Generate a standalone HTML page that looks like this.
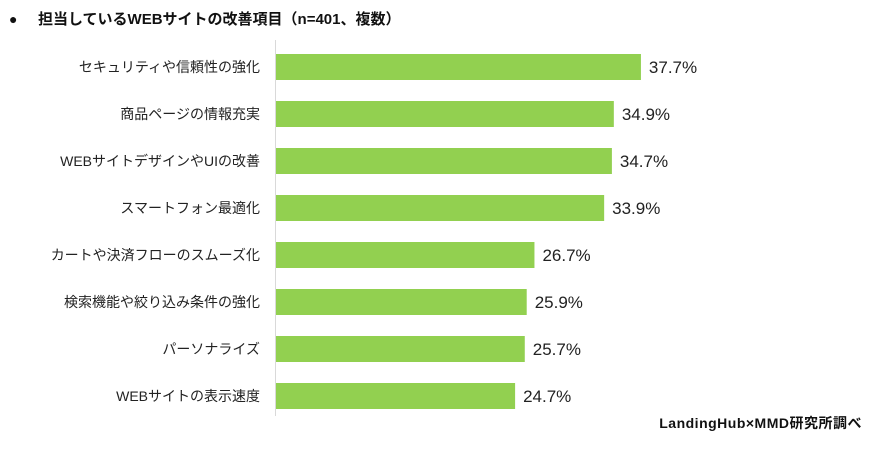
<!DOCTYPE html>
<html><head><meta charset="utf-8"><style>
body{margin:0;background:#fff;width:873px;height:445px;overflow:hidden;font-family:"Liberation Sans","Noto Sans CJK JP",sans-serif;}
svg text{font-family:"Liberation Sans","Noto Sans CJK JP",sans-serif;}
</style></head><body>
<svg width="873" height="445">
<text x="9" y="24" font-size="14" fill="#111">●</text>
<text x="38" y="24" font-size="15" font-weight="bold" fill="#111">担当しているWEBサイトの改善項目（n=401、複数）</text>
<line x1="275.5" y1="40" x2="275.5" y2="416" stroke="#d9d9d9"/>
<g id="bars"></g>
<text x="862" y="428" text-anchor="end" font-size="14" font-weight="bold" fill="#111" letter-spacing="0.5">LandingHub×MMD研究所調べ</text>
</svg>
<script>
const categories=["セキュリティや信頼性の強化","商品ページの情報充実","WEBサイトデザインやUIの改善","スマートフォン最適化","カートや決済フローのスムーズ化","検索機能や絞り込み条件の強化","パーソナライズ","WEBサイトの表示速度"];
const values=[37.7,34.9,34.7,33.9,26.7,25.9,25.7,24.7];
const valueLabels=["37.7%","34.9%","34.7%","33.9%","26.7%","25.9%","25.7%","24.7%"];
const x0=276,k=9.68,y0=54,step=47,bh=26;
const xs=v=>x0+v*k, ys=i=>y0+i*step;
const g=document.getElementById('bars'),NS="http://www.w3.org/2000/svg";
categories.forEach((c,i)=>{
 const r=document.createElementNS(NS,'rect');
 r.setAttribute('x',x0);r.setAttribute('y',ys(i));r.setAttribute('width',xs(values[i])-x0);r.setAttribute('height',bh);r.setAttribute('fill','#92d050');
 
 
 g.appendChild(r);
 const t=document.createElementNS(NS,'text');
 t.setAttribute('x',260);t.setAttribute('y',ys(i)+bh/2+5);t.setAttribute('text-anchor','end');t.setAttribute('font-size','14');t.setAttribute('fill','#222');t.textContent=c;
 
 
 g.appendChild(t);
 const v=document.createElementNS(NS,'text');
 v.setAttribute('x',xs(values[i])+8);v.setAttribute('y',ys(i)+bh/2+6);v.setAttribute('font-size','17');v.setAttribute('fill','#222');v.textContent=valueLabels[i];
 
 
 g.appendChild(v);
});
</script>
</body></html>
